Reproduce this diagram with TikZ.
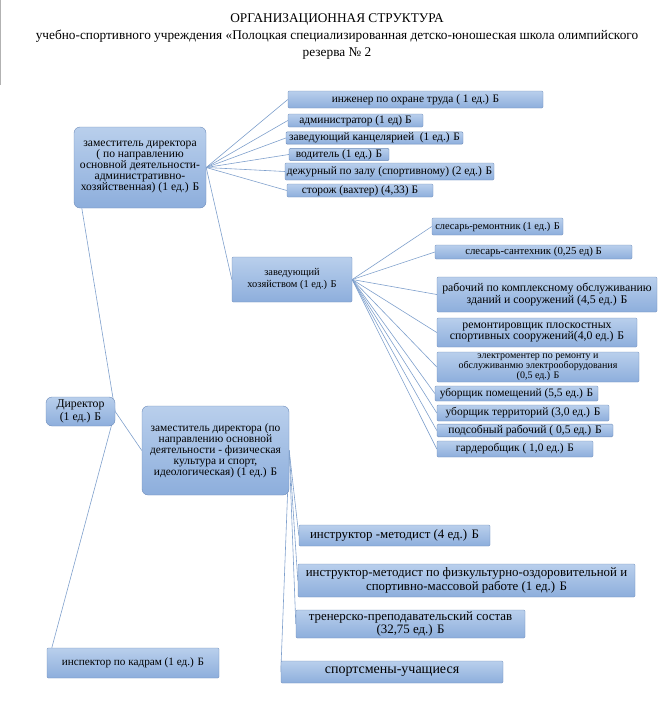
\documentclass[tikz,border=0pt]{standalone}
\usepackage{fontspec}
\setmainfont{Liberation Serif}
\usetikzlibrary{backgrounds}
\definecolor{boxtop}{HTML}{B9CFEC}
\definecolor{boxbot}{HTML}{8DAEDC}
\definecolor{boxline}{HTML}{6E8CBA}
\definecolor{linkline}{HTML}{7FA0CC}
\tikzset{
  unit/.style={draw=boxline, top color=boxtop, bottom color=boxbot,
    rounded corners=1.2pt, inner sep=1pt, align=center,
    font=\fontsize{11.4}{12}\selectfont},
  head/.style={unit, rounded corners=6pt},
  fs/.style 2 args={font=\fontsize{#1}{#2}\selectfont},
  link/.style={draw=linkline, line width=0.6pt},
}
\begin{document}
\begin{tikzpicture}[x=1pt,y=-1pt]
  \useasboundingbox (0,0) rectangle (670,709);
  \draw[gray!60] (0.5,0) -- (0.5,85);
  % title
  \node[fs={13.3}{17}, align=center] (title) at (337,37)
    {ОРГАНИЗАЦИОННАЯ СТРУКТУРА\\учебно-спортивного учреждения «Полоцкая специализированная детско-юношеская школа олимпийского\\резерва № 2};
  % director and deputies
  \node[head, fs={11.8}{12.5}, minimum width=69, minimum height=29] (dir) at (80.5,411.5) {Директор\\(1 ед.) Б};
  \node[head, fs={11.6}{11}, minimum width=132, minimum height=81] (dep1) at (140,167.5)
    {заместитель директора\\( по направлению\\основной деятельности-\\административно-\\хозяйственная) (1 ед.) Б};
  \node[head, fs={11.4}{11}, minimum width=147, minimum height=89] (dep2) at (215.5,450.5)
    {заместитель директора (по\\направлению основной\\деятельности - физическая\\культура и спорт,\\идеологическая) (1 ед.) Б};
  \node[unit, fs={11.2}{12}, minimum width=172, minimum height=30] (insp) at (133,663) {инспектор по кадрам (1 ед.) Б};
  % first deputy
  \node[unit, minimum width=255, minimum height=17] (eng) at (415.5,99.5) {инженер по охране труда ( 1 ед.) Б};
  \node[unit, minimum width=135, minimum height=13] (adm) at (355.5,120.5) {администратор (1 ед) Б};
  \node[unit, minimum width=177, minimum height=12] (kanc) at (374.5,138) {заведующий канцелярией~~(1 ед.) Б};
  \node[unit, minimum width=100, minimum height=11] (drv) at (339,154.5) {водитель (1 ед.) Б};
  \node[unit, minimum width=209, minimum height=17] (duty) at (389.5,171.5) {дежурный по залу (спортивному) (2 ед.) Б};
  \node[unit, minimum width=146, minimum height=13] (guard) at (360,190.5) {сторож (вахтер) (4,33) Б};
  \node[unit, fs={10.4}{12}, minimum width=120, minimum height=45] (zav) at (292,279.5) {заведующий\\хозяйством (1 ед.) Б};
  % household
  \node[unit, fs={10.4}{12}, minimum width=131, minimum height=17] (slr) at (497.5,226.5) {слесарь-ремонтник (1 ед.) Б};
  \node[unit, fs={10.8}{12}, minimum width=197, minimum height=14] (sant) at (533.5,252) {слесарь-сантехник (0,25 ед) Б};
  \node[unit, fs={11.8}{12}, minimum width=220, minimum height=35] (rab) at (547,294.5) {рабочий по комплексному обслуживанию\\зданий и сооружений (4,5 ед.) Б};
  \node[unit, fs={11.8}{11.5}, minimum width=200, minimum height=29] (rem) at (537,332.5) {ремонтировщик плоскостных\\спортивных сооружений(4,0 ед.) Б};
  \node[unit, fs={10}{9.8}, minimum width=202, minimum height=30] (el) at (538,367)
    {электроментер по ремонту и\\обслуживанмю электрооборудования\\(0,5 ед.) Б};
  \node[unit, minimum width=163, minimum height=15] (ubp) at (516.5,393.5) {уборщик помещений (5,5 ед.) Б};
  \node[unit, fs={11.5}{12}, minimum width=172, minimum height=16] (ubt) at (523,413) {уборщик территорий (3,0 ед.) Б};
  \node[unit, fs={11.6}{12}, minimum width=176, minimum height=11] (pods) at (525,430.5) {подсобный рабочий ( 0,5 ед.) Б};
  \node[unit, minimum width=156, minimum height=16] (gard) at (515,449) {гардеробщик ( 1,0 ед.) Б};
  % second deputy
  \node[unit, fs={12.9}{13}, minimum width=191, minimum height=21] (im1) at (394.5,535.5) {инструктор -методист (4 ед.) Б};
  \node[unit, fs={12.9}{13.3}, minimum width=337, minimum height=33] (im2) at (466.5,580.5)
    {инструктор-методист по физкультурно-оздоровительной и\\спортивно-массовой работе (1 ед.) Б};
  \node[unit, fs={12.9}{13}, minimum width=229, minimum height=28] (trn) at (410.5,624) {тренерско-преподавательский состав\\(32,75 ед.) Б};
  \node[unit, fs={14}{14}, minimum width=222, minimum height=22] (sport) at (392,672) {спортсмены-учащиеся};
  % connectors
  \begin{scope}[on background layer]
    \draw[link] (dir.east) -- ([xshift=8pt]dep1.south west);
    \draw[link] (dir.east) -- (dep2.west);
    \draw[link] (dir.east) -- ([xshift=5pt]insp.north west);
    \foreach \t in {eng,adm,kanc,drv,duty,guard,zav}
      \draw[link] (dep1.east) -- (\t.west);
    \foreach \t in {slr,sant,rab,rem,el,ubp,ubt,pods,gard}
      \draw[link] (zav.east) -- (\t.west);
    \foreach \t in {im1,im2,trn,sport}
      \draw[link] (dep2.east) -- (\t.west);
  \end{scope}
\end{tikzpicture}
\end{document}
